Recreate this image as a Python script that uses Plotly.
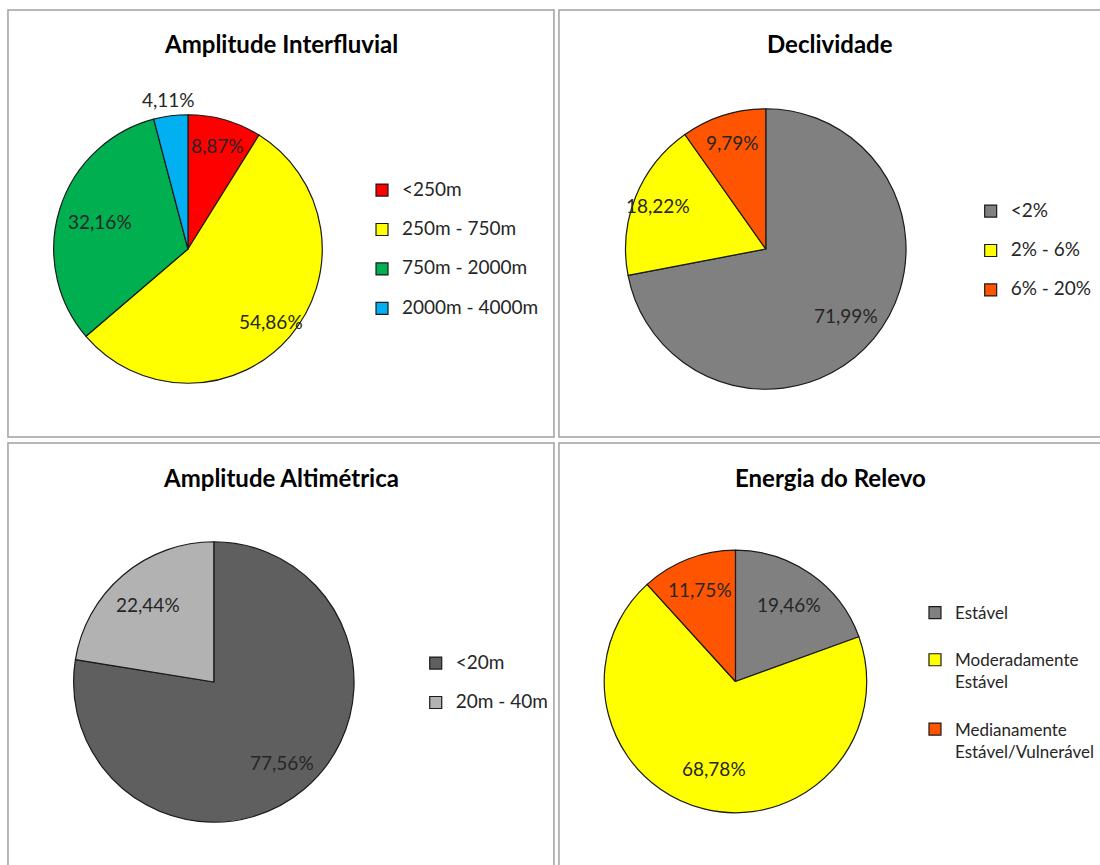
import plotly.graph_objects as go
import math

W, H = 1100, 865

# ---------------- data ----------------
titles = ["Amplitude Interfluvial", "Declividade", "Amplitude Altimétrica", "Energia do Relevo"]

ai_labels = ["<250m", "250m - 750m", "750m - 2000m", "2000m - 4000m"]
ai_values = [8.87, 54.86, 32.16, 4.11]
ai_colors = ["#FF0000", "#FFFF00", "#00B050", "#00B0F0"]

dec_labels = ["<2%", "2% - 6%", "6% - 20%"]
dec_values = [71.99, 18.22, 9.79]
dec_colors = ["#808080", "#FFFF00", "#FF5500"]

alt_labels = ["<20m", "20m - 40m"]
alt_values = [77.56, 22.44]
alt_colors = ["#5F5F5F", "#B2B2B2"]

en_labels = ["Estável", "Moderadamente<br>Estável", "Medianamente<br>Estável/Vulnerável"]
en_values = [19.46, 68.78, 11.75]
en_colors = ["#808080", "#FFFF00", "#FF5500"]

# ---------------- layout config (pixels) ----------------
FONT = "Lato"
charts = [
    dict(labels=ai_labels, values=ai_values, colors=ai_colors, cx=189, cy=249, r=135,
         lab_r=[0.80, 0.82, 0.69, 1.12], title_xy=(283, 44), leg=(364, 174.5), legend="legend", mode="span"),
    dict(labels=dec_labels, values=dec_values, colors=dec_colors, cx=770, cy=249, r=141,
         lab_r=[0.74, 0.83, 0.79], title_xy=(835, 44), leg=(976, 195.5), legend="legend2", mode="span"),
    dict(labels=alt_labels, values=alt_values, colors=alt_colors, cx=215, cy=682, r=141,
         lab_r=[0.75, 0.72], title_xy=(283, 477), leg=(418, 647.5), legend="legend3", mode="span"),
    dict(labels=en_labels, values=en_values, colors=en_colors, cx=739.5, cy=681.5, r=132,
         lab_r=[0.71, 0.68, 0.75], title_xy=(835, 477), leg=(920, 595), legend="legend4", mode="lines"),
]


def px(x):
    return x / W


def py(y):
    return 1 - y / H


fig = go.Figure()
annotations = []
legends = {}

for i, c in enumerate(charts):
    if c["mode"] == "span":
        leg_text = ["<span style='font-size:19px'>" + l.replace("<", "&lt;") + "</span><br>&#160;" for l in c["labels"]]
        leg_font = 14
    else:
        leg_text = list(c["labels"])
        leg_text = [t + ("<br>&#160;" if k < len(leg_text) - 1 else "") for k, t in enumerate(leg_text)]
        leg_font = 17
    fig.add_trace(go.Pie(
        labels=leg_text,
        values=c["values"],
        marker=dict(colors=c["colors"], line=dict(color="#1A1A1A", width=1.2)),
        sort=False,
        direction="clockwise",
        rotation=0,
        textinfo="none",
        hoverinfo="label+percent",
        domain=dict(x=[px(c["cx"] - c["r"]), px(c["cx"] + c["r"])],
                    y=[py(c["cy"] + c["r"]), py(c["cy"] - c["r"])]),
        legend=c["legend"],
        showlegend=True,
    ))
    legends[c["legend"]] = dict(
        x=px(c["leg"][0]), y=py(c["leg"][1]), xanchor="left", yanchor="top",
        font=dict(family=FONT, size=leg_font, color="#262626"),
        valign="top", bgcolor="rgba(0,0,0,0)", traceorder="normal",
    )
    # data labels computed from values
    total = sum(c["values"])
    cum = 0.0
    for v, fr in zip(c["values"], c["lab_r"]):
        mid = (cum + v / 2) / total * 2 * math.pi
        cum += v
        lx = c["cx"] + fr * c["r"] * math.sin(mid)
        ly = c["cy"] - fr * c["r"] * math.cos(mid)
        annotations.append(dict(
            x=px(lx), y=py(ly), xref="paper", yref="paper", showarrow=False,
            text=f"{v:.2f}".replace(".", ",") + "%",
            font=dict(family=FONT, size=19, color="#262626"),
            xanchor="center", yanchor="middle",
        ))
    annotations.append(dict(
        x=px(c["title_xy"][0]), y=py(c["title_xy"][1]), xref="paper", yref="paper",
        showarrow=False, text="<b>" + titles[i] + "</b>",
        font=dict(family=FONT, size=24, color="#000000"),
        xanchor="center", yanchor="middle",
    ))

# panel borders
panels = [(8, 10, 557, 437), (562, 10, 1110, 437), (8, 443, 557, 875), (562, 443, 1110, 875)]
shapes = [dict(type="rect", xref="paper", yref="paper",
               x0=px(a), x1=px(b), y0=py(d), y1=py(c_),
               line=dict(color="#A0A0A0", width=1.5), fillcolor="rgba(0,0,0,0)")
          for a, c_, b, d in panels]

fig.update_layout(
    width=W, height=H,
    margin=dict(l=0, r=0, t=0, b=0),
    paper_bgcolor="white", plot_bgcolor="white",
    annotations=annotations, shapes=shapes,
    **legends,
)

fig.write_html("out.html")
